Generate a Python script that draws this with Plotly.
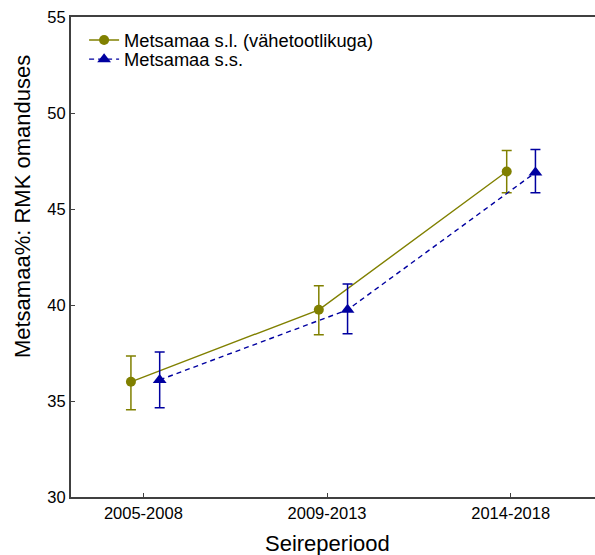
import plotly.graph_objects as go

# Monitoring periods (x categories)
periods = ["2005-2008", "2009-2013", "2014-2018"]

# Forest land share (%) of RMK holdings: means and confidence limits
sl_name = "Metsamaa s.l. (vähetootlikuga)"
sl_mean = [36.0, 39.75, 46.95]
sl_upper = [37.35, 41.0, 48.05]
sl_lower = [34.55, 38.45, 45.85]

ss_name = "Metsamaa s.s."
ss_mean = [36.1, 39.75, 46.9]
ss_upper = [37.55, 41.1, 48.1]
ss_lower = [34.65, 38.5, 45.85]

OLIVE = "#808000"
NAVY = "#0000a0"
AXIS = "#404040"
FONT = "Liberation Sans, Arial, sans-serif"

# series drawn side by side around each period
idx = list(range(len(periods)))
dodge = 0.153
x_sl = idx
x_ss = [i + dodge for i in idx]


def err(mean, up, lo):
    return dict(
        type="data", symmetric=False,
        array=[u - m for u, m in zip(up, mean)],
        arrayminus=[m - l for m, l in zip(mean, lo)],
        thickness=1.5, width=5,
    )


fig = go.Figure()
fig.add_trace(go.Scatter(
    x=x_sl, y=sl_mean, name=sl_name, mode="lines+markers",
    xaxis="x2", legend="legend",
    line=dict(color=OLIVE, width=1.4),
    marker=dict(symbol="circle", size=10, color=OLIVE),
    error_y=dict(err(sl_mean, sl_upper, sl_lower), color=OLIVE),
))
fig.add_trace(go.Scatter(
    x=x_ss, y=ss_mean, name=ss_name, mode="lines+markers",
    xaxis="x2", legend="legend2",
    line=dict(color=NAVY, width=1.4, dash="5px,4px"),
    marker=dict(symbol="triangle-up", size=12, color=NAVY),
    error_y=dict(err(ss_mean, ss_upper, ss_lower), color=NAVY),
))
# invisible trace so the category axis is active
fig.add_trace(go.Scatter(x=idx, y=[None] * 3, showlegend=False,
                         hoverinfo="skip", mode="markers"))

legend_style = dict(
    xanchor="left", yanchor="middle",
    bgcolor="rgba(0,0,0,0)", font=dict(size=18.3, family=FONT),
    itemwidth=30,
)

fig.update_layout(
    width=595, height=555,
    margin=dict(l=71, r=0, t=17, b=58),
    paper_bgcolor="white", plot_bgcolor="white",
    font=dict(family=FONT, color="black"),
    showlegend=True,
    legend=dict(legend_style, x=0.025, y=0.952),
    legend2=dict(legend_style, x=0.025, y=0.912),
    xaxis=dict(
        range=[-0.394, 2.459],
        tickvals=idx, ticktext=periods,
        ticks="inside", ticklen=4, tickcolor=AXIS, tickwidth=1,
        showline=True, linecolor=AXIS, linewidth=2, mirror=True,
        showgrid=False, zeroline=False,
        tickfont=dict(size=16.5, family=FONT),
    ),
    xaxis2=dict(
        range=[-0.319, 2.470], overlaying="x", visible=False,
    ),
    yaxis=dict(
        range=[30, 55], dtick=5,
        ticks="inside", ticklen=4, tickcolor=AXIS, tickwidth=1,
        showline=True, linecolor=AXIS, linewidth=2,
        showgrid=False, zeroline=False,
        tickfont=dict(size=16.5, family=FONT),
    ),
    annotations=[
        dict(text="Seireperiood", xref="x", yref="paper", x=1, y=0,
             yshift=-46, xanchor="center", yanchor="middle",
             showarrow=False, font=dict(size=22, family=FONT)),
        dict(text="Metsamaa%: RMK omanduses", xref="paper", yref="paper",
             x=0, y=0.604, xshift=-49, xanchor="center", yanchor="middle",
             textangle=-90, showarrow=False, font=dict(size=22, family=FONT)),
    ],
)

fig.write_html("out.html")
